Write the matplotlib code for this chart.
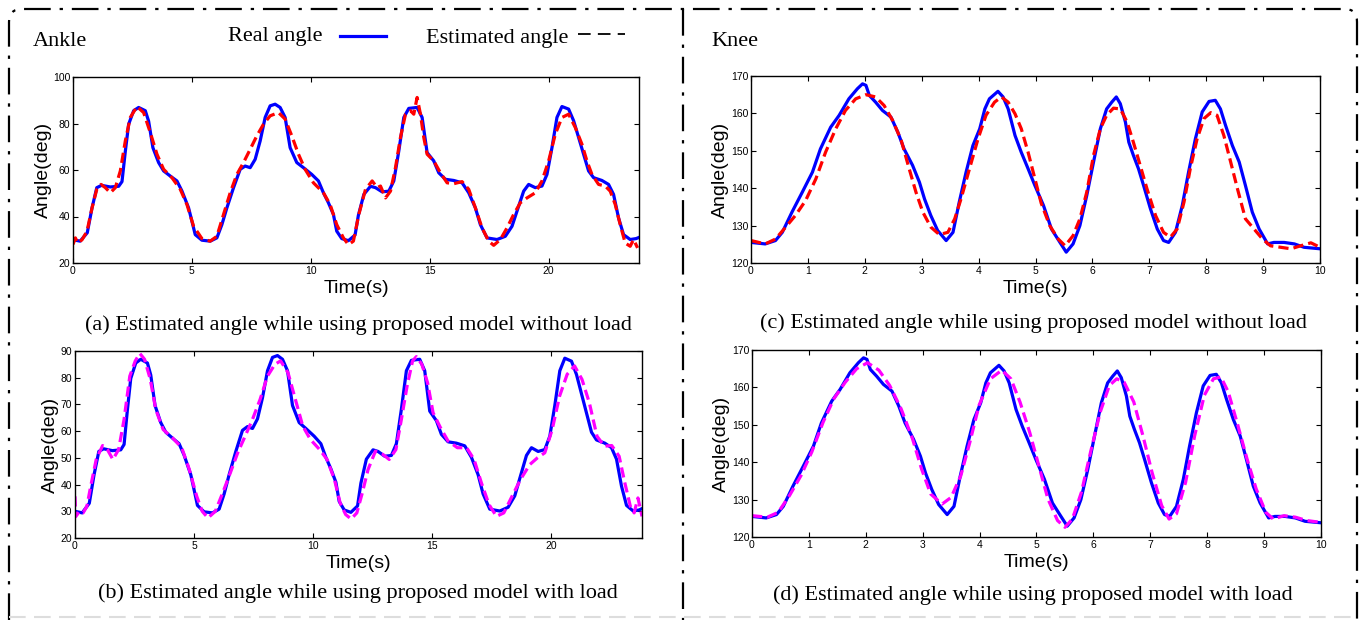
import matplotlib
matplotlib.use("Agg")
import matplotlib.pyplot as plt
from matplotlib.lines import Line2D
from matplotlib.path import Path
from matplotlib.patches import PathPatch


# ankle, real angle (same trace in (a) and (b))
ankle_real = [(0, 30), (0.3, 29.4), (0.6, 33), (0.8, 43.7), (1.0, 52.4), (1.2, 53.4),
              (1.57, 52.7), (1.92, 53), (2.06, 55), (2.2, 68), (2.34, 79.7), (2.55, 85.5),
              (2.76, 86.9), (3.04, 85.5), (3.18, 81), (3.36, 69.6), (3.6, 63.2), (3.81, 59.6),
              (4.09, 57.4), (4.37, 55.3), (4.58, 51), (4.86, 43.7), (5.0, 38), (5.14, 32.2),
              (5.42, 29.8), (5.77, 29.4), (6.05, 30.8), (6.26, 36.5), (6.47, 43.7), (6.75, 52.4),
              (7.03, 60.3), (7.24, 61.7), (7.45, 61), (7.66, 64.6), (7.87, 72.5), (8.08, 82.6),
              (8.29, 87.6), (8.5, 88.3), (8.71, 86.9), (8.92, 82.6), (9.13, 69.6), (9.41, 63.2),
              (9.69, 61), (10.04, 58.1), (10.32, 55.3), (10.53, 50.2), (10.74, 45.9), (10.95, 40.9),
              (11.09, 33.7), (11.3, 30.5), (11.58, 29.6), (11.86, 32), (12.0, 40.5), (12.23, 49.5),
              (12.51, 53), (12.72, 52.4), (13.0, 50.6), (13.28, 50.9), (13.49, 55.3), (13.7, 68.2),
              (13.91, 82.6), (14.12, 86.5), (14.47, 86.9), (14.68, 82.6), (14.89, 67.5), (15.17, 63.9),
              (15.38, 58.8), (15.66, 56), (16.01, 55.5), (16.36, 54.5), (16.64, 50.2), (16.92, 43.7),
              (17.13, 36.5), (17.41, 30.8), (17.83, 30.1), (18.18, 31.5), (18.46, 35.8), (18.67, 42.3),
              (18.95, 50.9), (19.16, 53.8), (19.44, 52.4), (19.72, 53.1), (19.93, 58.1), (20.14, 69.6),
              (20.35, 82.6), (20.56, 87.3), (20.84, 86.2), (21.05, 81.2), (21.26, 74), (21.47, 66.8),
              (21.68, 59.6), (21.89, 56.7), (22.24, 55.5), (22.52, 53.8), (22.73, 49.5), (22.94, 39.4),
              (23.15, 32.2), (23.43, 30.1), (23.68, 30.5), (23.8, 31)]

# ankle, estimated without load (a)
ankle_est_a = [(0, 28), (0.1, 30.8), (0.2, 28.6), (0.38, 30), (0.59, 33.7), (0.8, 43.7),
               (1.0, 51.7), (1.18, 53.8), (1.36, 52.4), (1.57, 50.2), (1.78, 52.4), (1.99, 59.6),
               (2.2, 72.5), (2.41, 82.6), (2.69, 87.3), (2.97, 84.7), (3.25, 76.1), (3.53, 66.8),
               (3.81, 60.3), (4.16, 56.7), (4.51, 51.7), (4.79, 45.2), (5.07, 35.8), (5.42, 30.5),
               (5.77, 29.4), (6.05, 31.5), (6.33, 40.9), (6.61, 50.2), (6.89, 58.1), (7.17, 63.2),
               (7.45, 68.9), (7.73, 74.7), (8.01, 79.7), (8.29, 83.3), (8.64, 84.7), (8.92, 81.9),
               (9.2, 74.7), (9.48, 66.8), (9.76, 60.3), (10.11, 54.5), (10.53, 50.2), (10.81, 45.2),
               (11.09, 36.5), (11.37, 30.8), (11.58, 27.9), (11.79, 29.4), (12.02, 40.9), (12.3, 51.7),
               (12.58, 55.3), (12.79, 52.4), (12.93, 53.1), (13.14, 48), (13.35, 50.9), (13.56, 61),
               (13.77, 74), (13.98, 84), (14.19, 85.5), (14.33, 84), (14.47, 91.2), (14.61, 84),
               (14.75, 74), (14.89, 66.8), (15.17, 63.9), (15.45, 58.8), (15.73, 54.5), (16.01, 54.1),
               (16.36, 55), (16.64, 51.7), (16.92, 43.7), (17.2, 35.1), (17.48, 29.4), (17.69, 27.6),
               (17.97, 30.1), (18.25, 35.1), (18.53, 40.9), (18.81, 45.9), (19.09, 48), (19.44, 50.2),
               (19.72, 55.3), (20.0, 63.9), (20.28, 75.4), (20.56, 82.6), (20.84, 84), (21.12, 78.3),
               (21.4, 71.1), (21.61, 63.9), (21.82, 58.1), (22.1, 53.8), (22.38, 53.1), (22.59, 50.9),
               (22.8, 45.2), (23.01, 36.5), (23.22, 28.6), (23.43, 27.2), (23.57, 30.1), (23.74, 26.5)]

# ankle, estimated with load (b)
ankle_est_b = [(0, 35.6), (0.03, 28), (0.19, 30), (0.34, 29.4), (0.5, 31.9), (0.66, 39.4),
               (0.89, 49.4), (1.16, 54.6), (1.36, 53.1), (1.59, 49.4), (1.83, 53.1), (2.06, 64.4),
               (2.3, 80.6), (2.53, 86.3), (2.72, 89.1), (2.92, 86.9), (3.16, 79.4), (3.39, 68.1),
               (3.7, 60.6), (4.09, 57.5), (4.48, 53.8), (4.8, 45.6), (5.11, 35.6), (5.34, 30),
               (5.58, 27.5), (5.89, 30), (6.2, 36.9), (6.52, 44.4), (6.83, 51.9), (7.14, 58.1),
               (7.45, 64.4), (7.77, 71.9), (8.08, 80.6), (8.39, 85), (8.63, 86.3), (8.94, 81.9),
               (9.25, 71.9), (9.56, 61.9), (9.88, 56.9), (10.27, 53.1), (10.58, 49.4), (10.89, 41.9),
               (11.13, 33.1), (11.36, 28.8), (11.59, 27.1), (11.83, 29.4), (12.06, 36.9), (12.3, 45.6),
               (12.61, 52.5), (12.92, 51.3), (13.19, 49.4), (13.47, 53.1), (13.7, 64.4), (13.94, 76.9),
               (14.17, 86.3), (14.33, 87.9), (14.56, 85), (14.8, 78.1), (15.03, 66.9), (15.34, 61.3),
               (15.66, 56.3), (16.05, 53.8), (16.44, 53.8), (16.75, 49.4), (17.06, 40.6), (17.38, 32.5),
               (17.69, 28.1), (18.0, 29.4), (18.31, 35), (18.7, 41.9), (19.09, 47.5), (19.41, 50),
               (19.72, 51.9), (20.03, 60.6), (20.34, 73.1), (20.66, 81.3), (20.97, 84.4), (21.28, 79.4),
               (21.59, 70.6), (21.91, 58.1), (22.22, 54.4), (22.53, 54.6), (22.84, 50.6), (23.08, 40.6),
               (23.31, 31.9), (23.47, 29.4), (23.63, 35), (23.8, 28.1)]

# knee, real angle (same trace in (c) and (d))
knee_real = [(0, 125.5), (0.25, 125.1), (0.43, 126), (0.55, 128.2), (0.72, 133.6), (0.9, 138.9),
             (1.08, 144.3), (1.22, 150.5), (1.4, 156.3), (1.55, 159.5), (1.72, 163.9), (1.87, 166.6),
             (1.96, 167.9), (2.02, 167.5), (2.08, 164.8), (2.19, 163), (2.31, 160.8), (2.46, 159),
             (2.58, 155), (2.69, 150.5), (2.84, 146.1), (2.96, 141.6), (3.05, 137.1), (3.16, 132.7),
             (3.28, 128.7), (3.43, 126), (3.55, 128.2), (3.66, 136.3), (3.78, 144.3), (3.9, 151.4),
             (4.02, 155.9), (4.11, 161.2), (4.19, 163.9), (4.34, 165.9), (4.43, 164.4), (4.52, 161.2),
             (4.64, 154.1), (4.75, 149.6), (4.87, 145.2), (4.99, 140.7), (5.14, 135.4), (5.28, 129.1),
             (5.43, 125.5), (5.54, 122.9), (5.66, 125.1), (5.78, 130), (5.9, 138), (6.02, 147),
             (6.14, 155.9), (6.25, 161.2), (6.34, 163), (6.42, 164.4), (6.49, 162.6), (6.58, 157.7),
             (6.64, 152.3), (6.72, 148.8), (6.81, 145.2), (6.9, 140.7), (7.02, 134.5), (7.14, 129.1),
             (7.25, 126), (7.34, 125.5), (7.46, 128.2), (7.58, 135.4), (7.69, 144.3), (7.81, 153.2),
             (7.93, 160.4), (8.05, 163.2), (8.16, 163.5), (8.25, 161.2), (8.34, 156.8), (8.46, 151.4),
             (8.58, 147), (8.69, 140.7), (8.81, 133.6), (8.93, 129.1), (9.08, 125.1), (9.19, 125.5),
             (9.37, 125.5), (9.55, 125.1), (9.72, 124.2), (10, 123.8)]

# knee, estimated without load (c)
knee_est_c = [(0, 126), (0.25, 125.1), (0.43, 126.4), (0.61, 129.6), (0.78, 132.7), (0.96, 136.7),
              (1.14, 142.5), (1.31, 149.6), (1.49, 155.9), (1.66, 160.8), (1.84, 163.9), (2.02, 165),
              (2.19, 164.4), (2.34, 162.1), (2.49, 158.1), (2.64, 152.8), (2.78, 145.2), (2.9, 138.9),
              (3.02, 133.6), (3.16, 129.6), (3.31, 127.6), (3.46, 128.2), (3.58, 131.8), (3.69, 137.1),
              (3.84, 145.2), (3.99, 153.2), (4.13, 159.5), (4.28, 163), (4.4, 164.4), (4.52, 163),
              (4.64, 159.9), (4.75, 155.9), (4.87, 149.6), (4.99, 142.5), (5.1, 136), (5.25, 130),
              (5.4, 126.4), (5.52, 124.6), (5.66, 127.3), (5.78, 131.8), (5.9, 138.9), (6.02, 148.8),
              (6.14, 155.9), (6.25, 159.5), (6.37, 161.4), (6.49, 161.2), (6.61, 157.7), (6.72, 152.3),
              (6.84, 146.1), (6.96, 139.8), (7.11, 132.7), (7.25, 128.2), (7.37, 126.9), (7.49, 129.1),
              (7.61, 136.3), (7.72, 145.2), (7.84, 153.2), (7.96, 158.6), (8.08, 160.2), (8.19, 159.5),
              (8.31, 154.1), (8.43, 147), (8.55, 139.8), (8.69, 131.8), (8.84, 129.1), (8.99, 126.4),
              (9.13, 124.6), (9.31, 124.2), (9.49, 123.8), (9.66, 124.6), (9.84, 125.4), (10, 124.2)]

# knee, estimated with load (d)
knee_est_d = [(0, 125.7), (0.27, 125.3), (0.46, 126.6), (0.66, 131.1), (0.86, 136.4), (1.05, 142.7),
              (1.25, 150.7), (1.44, 157), (1.64, 161.4), (1.84, 165), (2.03, 166.6), (2.23, 164.6),
              (2.42, 160.5), (2.62, 154.3), (2.82, 146.3), (2.98, 138.2), (3.14, 131.5), (3.34, 128.8),
              (3.5, 130.6), (3.67, 136.4), (3.83, 145.4), (3.99, 155.2), (4.19, 162.3), (4.39, 164.6),
              (4.55, 162.3), (4.71, 156.1), (4.88, 148), (5.04, 139.1), (5.2, 130.2), (5.37, 124.4),
              (5.5, 122.6), (5.63, 124.8), (5.79, 132), (5.95, 142.7), (6.12, 153.4), (6.28, 160.5),
              (6.41, 162.3), (6.54, 161.4), (6.71, 156.1), (6.87, 147.1), (7.03, 137.3), (7.2, 128.4),
              (7.33, 124.8), (7.46, 126.2), (7.62, 134.6), (7.78, 147.1), (7.95, 157.9), (8.11, 162.3),
              (8.24, 162.8), (8.37, 158.8), (8.54, 149.8), (8.7, 140.9), (8.86, 132.9), (9.03, 126.6),
              (9.16, 124.8), (9.35, 125.7), (9.55, 125.3), (9.75, 124.4), (10, 123.9)]

captions = ["(a) Estimated angle while using proposed model without load",
            "(b) Estimated angle while using proposed model with load",
            "(c) Estimated angle while using proposed model without load",
            "(d) Estimated angle while using proposed model with load"]

W, H = 1361, 620
SERIF = "Liberation Serif"
SANS = "Liberation Sans"
SERIF_SIZE = 16


def split(pairs):
    return [p[0] for p in pairs], [p[1] for p in pairs]


def px_axes(fig, left, top, right, bottom):
    # axes box given in pixel coords measured from the top-left corner
    return fig.add_axes([left / W, 1 - bottom / H, (right - left) / W, (bottom - top) / H])


def style(ax, xmax, xticks, ylim, yticks):
    ax.set_xlim(0, xmax)
    ax.set_ylim(*ylim)
    ax.set_xticks(xticks)
    ax.set_yticks(yticks)
    ax.tick_params(direction="in", top=True, right=True, length=3.5, width=0.8,
                   labelsize=7.5, pad=2)
    for lab in ax.get_xticklabels() + ax.get_yticklabels():
        lab.set_family(SANS)
    for s in ax.spines.values():
        s.set_linewidth(1.0)
    ax.set_xlabel("Time(s)", family=SANS, fontsize=14, labelpad=3)
    ax.set_ylabel("Angle(deg)", family=SANS, fontsize=14, labelpad=1)


fig = plt.figure(figsize=(W / 100, H / 100), dpi=100)

panels = [
    (73, 77, 639, 263, ankle_real, ankle_est_a, "#ff0000", 23.8, [0, 5, 10, 15, 20], (20, 100), range(20, 101, 20)),
    (75, 351, 642, 538, ankle_real, ankle_est_b, "#ff00ff", 23.8, [0, 5, 10, 15, 20], (20, 90), range(20, 91, 10)),
    (751, 76, 1320, 263, knee_real, knee_est_c, "#ff0000", 10, range(0, 11), (120, 170), range(120, 171, 10)),
    (752, 350, 1321, 537, knee_real, knee_est_d, "#ff00ff", 10, range(0, 11), (120, 170), range(120, 171, 10)),
]

for (l, t, r, b, real, est, col, xmax, xt, yl, yt) in panels:
    ax = px_axes(fig, l, t, r, b)
    x1, y1 = split(real)
    x2, y2 = split(est)
    ax.plot(x1, y1, color="#0000ff", lw=2.3, solid_joinstyle="round")
    ax.plot(x2, y2, color=col, lw=2.3, linestyle=(0, (3.2, 1.6)))
    style(ax, xmax, xt, yl, yt)

# captions
cap_pos = [(358, 325), (358, 593), (1033, 323), (1033, 595)]
for txt, (cx, cy) in zip(captions, cap_pos):
    fig.text(cx / W, 1 - cy / H, txt, family=SERIF, fontsize=SERIF_SIZE, ha="center", va="center")

fig.text(33 / W, 1 - 41 / H, "Ankle", family=SERIF, fontsize=SERIF_SIZE, va="center")
fig.text(711 / W, 1 - 41 / H, "Knee", family=SERIF, fontsize=SERIF_SIZE, va="center")

# legend drawn by hand: label first, then line sample
fig.text(228 / W, 1 - 37 / H, "Real angle", family=SERIF, fontsize=SERIF_SIZE, va="center")
fig.add_artist(Line2D([340 / W, 386 / W], [1 - 36 / H, 1 - 36 / H], color="#0000ff", lw=2.3))
fig.text(426 / W, 1 - 38 / H, "Estimated angle", family=SERIF, fontsize=SERIF_SIZE, va="center")
fig.add_artist(Line2D([578 / W, 625 / W], [1 - 34 / H, 1 - 34 / H], color="black", lw=1.3,
                      linestyle=(0, (7, 4))))

# dash-dot frame around both halves


def frame_path(pts):
    return Path([(x, H - y) for x, y in pts])


outer = Path([(9, H - 620), (9, H - 22), (9, H - 9), (22, H - 9), (1345, H - 9),
              (1357, H - 9), (1357, H - 22), (1357, H - 620)],
             [Path.MOVETO, Path.LINETO, Path.CURVE3, Path.CURVE3, Path.LINETO,
              Path.CURVE3, Path.CURVE3, Path.LINETO])
fig.add_artist(PathPatch(outer, transform=None, fill=False, edgecolor="black", lw=1.6,
                         linestyle=(0, (12, 4, 1.5, 4))))
fig.add_artist(PathPatch(frame_path([(683, 9), (683, 620)]), transform=None, fill=False,
                         edgecolor="black", lw=1.6, linestyle=(0, (12, 4, 1.5, 4))))
fig.add_artist(PathPatch(frame_path([(9, 617), (1357, 617)]), transform=None, fill=False,
                         edgecolor="#dddddd", lw=1.5, linestyle=(0, (8, 4))))

fig.savefig("out.png", dpi=100)
